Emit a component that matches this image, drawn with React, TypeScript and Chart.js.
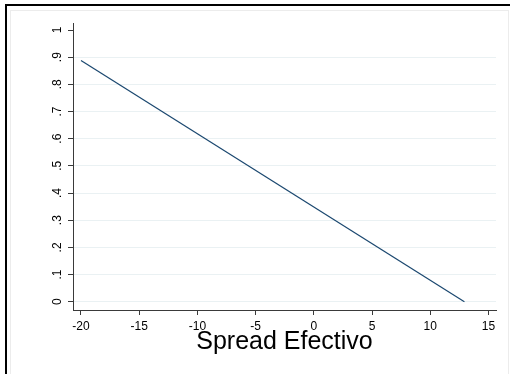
import React, { useEffect, useRef } from "react";
import { Chart, registerables } from "chart.js";

Chart.register(...registerables);

const spreadX = [-20, 12.93];
const probY = [0.888, 0];
const xTickValues = [-20, -15, -10, -5, 0, 5, 10, 15];
const yTickValues = [0, 0.1, 0.2, 0.3, 0.4, 0.5, 0.6, 0.7, 0.8, 0.9, 1];
const yTickLabels = ["0", ".1", ".2", ".3", ".4", ".5", ".6", ".7", ".8", ".9", "1"];
const xTitle = "Spread Efectivo";

const FONT = "'Liberation Sans', Arial, sans-serif";
const AXIS = "#3a3a3a";
const GRID = "#eaf1f3";

const framePlugin = {
  id: "frame",
  beforeDraw(chart: any) {
    const ctx = chart.ctx;
    ctx.save();
    ctx.fillStyle = "#ffffff";
    ctx.fillRect(0, 0, chart.width, chart.height);
    ctx.strokeStyle = "#ececec";
    ctx.lineWidth = 1;
    ctx.strokeRect(10.5, 10.5, 498, 420);
    ctx.fillStyle = "#000000";
    ctx.fillRect(5, 4, chart.width - 5, 2);
    ctx.fillRect(5, 4, 2, chart.height - 4);
    ctx.restore();
  },
  afterDraw(chart: any) {
    const ctx = chart.ctx;
    const ys = chart.scales.y;
    ctx.save();
    ctx.fillStyle = "#000000";
    ctx.font = `12px ${FONT}`;
    ctx.textAlign = "center";
    ctx.textBaseline = "middle";
    yTickValues.forEach((v, i) => {
      const py = ys.getPixelForValue(v);
      ctx.save();
      ctx.translate(57.5, py);
      ctx.rotate(-Math.PI / 2);
      ctx.fillText(yTickLabels[i], 0, 0);
      ctx.restore();
    });
    ctx.restore();
  },
};

export default function App() {
  const ref = useRef<HTMLCanvasElement | null>(null);
  useEffect(() => {
    if (!ref.current) return;
    const chart = new Chart(ref.current, {
      type: "scatter",
      data: {
        datasets: [
          {
            data: spreadX.map((x, i) => ({ x, y: probY[i] })),
            showLine: true,
            borderColor: "#1a476f",
            borderWidth: 1.2,
            pointRadius: 0,
            fill: false,
          },
        ],
      },
      options: {
        animation: false,
        responsive: false,
        layout: { padding: { left: 0, top: 23, right: 14, bottom: 0 } },
        plugins: { legend: { display: false }, tooltip: { enabled: false } },
        scales: {
          x: {
            type: "linear",
            min: -20.687,
            max: 15.644,
            afterBuildTicks: (s: any) => {
              s.ticks = xTickValues.map((v) => ({ value: v }));
            },
            afterFit: (s: any) => {
              s.height = 64;
            },
            ticks: {
              color: "#000",
              font: { family: FONT, size: 12 },
              padding: 4,
              maxRotation: 0,
              minRotation: 0,
              callback: (v: any) => String(v),
            },
            grid: {
              drawOnChartArea: false,
              drawTicks: true,
              tickLength: 5,
              tickColor: AXIS,
            },
            border: { display: true, color: AXIS, width: 1 },
            title: {
              display: true,
              text: xTitle,
              color: "#000",
              font: { family: FONT, size: 25 },
              padding: { top: 0, bottom: 17 },
            },
          },
          y: {
            type: "linear",
            min: -0.0305,
            max: 1.0258,
            afterBuildTicks: (s: any) => {
              s.ticks = yTickValues.map((v) => ({ value: v }));
            },
            afterFit: (s: any) => {
              s.width = 73;
            },
            ticks: { display: false },
            grid: {
              drawOnChartArea: true,
              drawTicks: true,
              tickLength: 5,
              tickColor: AXIS,
              color: (c: any) =>
                c.tick && Math.abs(c.tick.value - 1) < 1e-9 ? "rgba(0,0,0,0)" : GRID,
            },
            border: { display: true, color: AXIS, width: 1 },
          },
        },
      },
      plugins: [framePlugin],
    });
    return () => chart.destroy();
  }, []);
  return (
    <div style={{ position: "fixed", left: 0, top: 0, width: 510, height: 374 }}>
      <canvas ref={ref} width={510} height={374} style={{ display: "block" }} />
    </div>
  );
}
